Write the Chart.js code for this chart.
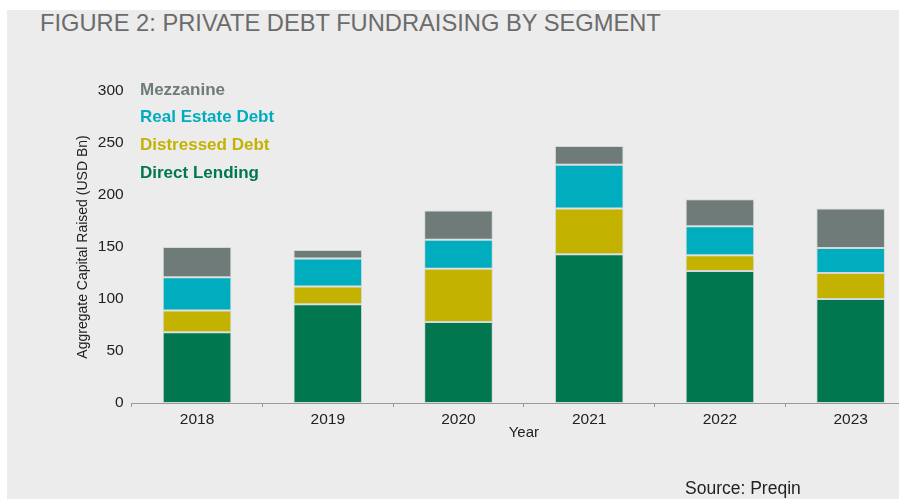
<!DOCTYPE html>
<html>
<head>
<meta charset="utf-8">
<title>Private debt fundraising by segment</title>
<script src="https://cdn.jsdelivr.net/npm/chart.js@4.4.1/dist/chart.umd.min.js"></script>
<style>
    html, body {
        margin: 0;
        padding: 0;
        background: #ffffff;
        width: 899px;
        height: 499px;
        overflow: hidden;
        font-family: 'Liberation Sans', Arial, sans-serif;
    }
    #panel {
        position: absolute;
        left: 7px;
        top: 10px;
        right: 0;
        bottom: 0;
        background: #ececec;
    }
    #figTitle {
        position: absolute;
        left: 40px;
        top: 12px;
        font-size: 23.7px;
        line-height: 1;
        color: #6b6b6b;
        white-space: nowrap;
    }
    #source {
        position: absolute;
        left: 685px;
        top: 480px;
        font-size: 17.5px;
        line-height: 1;
        color: #222222;
        white-space: nowrap;
    }
    #chartWrap {
        position: absolute;
        left: 0;
        top: 0;
        width: 899px;
        height: 499px;
        overflow: hidden;
    }
</style>
</head>
<body>
<div id="panel"></div>
<div id="figTitle">FIGURE 2: PRIVATE DEBT FUNDRAISING BY SEGMENT</div>
<div id="chartWrap"><canvas id="fundChart" width="920" height="499"></canvas></div>
<div id="source">Source: Preqin</div>

<script>
// Fundraising totals per year, USD bn
const years = ['2018', '2019', '2020', '2021', '2022', '2023'];
const directLending = [68, 95, 78, 143, 127, 100];
const distressedDebt = [21, 17, 51, 44, 15, 25];
const realEstateDebt = [32, 27, 28, 42, 28, 24];
const mezzanine = [29, 8, 28, 18, 26, 38];
const yTicks = [0, 50, 100, 150, 200, 250, 300];

const segmentColors = {
    direct: '#00774f',
    distressed: '#c3b300',
    realEstate: '#00adbf',
    mezz: '#6f7b78'
};

Chart.defaults.font.family = "'Liberation Sans', Arial, sans-serif";
Chart.defaults.color = '#222222';

/**
 * Draws the series names as coloured text stacked in the top-left corner,
 * top series first.
 */
const textLegend = {
    id: 'textLegend',
    afterDraw(chart) {
        const ctx = chart.ctx;
        const sets = chart.data.datasets.slice().reverse();
        ctx.save();
        ctx.font = "bold 17px 'Liberation Sans', Arial, sans-serif";
        ctx.textAlign = 'left';
        ctx.textBaseline = 'middle';
        sets.forEach((ds, i) => {
            ctx.fillStyle = ds.backgroundColor;
            ctx.fillText(ds.label, 140, 90 + i * 27.7);
        });
        ctx.restore();
    }
};

function makeSet(label, data, color) {
    return {
        label: label,
        data: data,
        backgroundColor: color,
        borderColor: 'rgba(196, 204, 202, 0.6)',
        borderWidth: 1,
        borderSkipped: false,
        barPercentage: 0.525,
        categoryPercentage: 1.0
    };
}

const ctx = document.getElementById('fundChart').getContext('2d');
const fundChart = new Chart(ctx, {
    type: 'bar',
    data: {
        labels: years,
        datasets: [
            makeSet('Direct Lending', directLending, segmentColors.direct),
            makeSet('Distressed Debt', distressedDebt, segmentColors.distressed),
            makeSet('Real Estate Debt', realEstateDebt, segmentColors.realEstate),
            makeSet('Mezzanine', mezzanine, segmentColors.mezz)
        ]
    },
    options: {
        responsive: false,
        animation: false,
        layout: {
            padding: { left: 74.3, right: 4, top: 91, bottom: 57 }
        },
        scales: {
            x: {
                stacked: true,
                grid: {
                    display: true,
                    drawOnChartArea: false,
                    drawTicks: true,
                    tickLength: 4,
                    color: '#9a9a9a',
                    offset: true
                },
                border: { display: true, color: '#9a9a9a', width: 1 },
                ticks: {
                    padding: 3,
                    font: { size: 15.5 },
                    color: '#222222'
                },
                title: {
                    display: true,
                    text: 'Year',
                    font: { size: 15 },
                    color: '#222222',
                    padding: 0
                },
                afterFit(scale) { scale.height = 39; }
            },
            y: {
                stacked: true,
                min: yTicks[0],
                max: yTicks[yTicks.length - 1],
                afterBuildTicks(scale) {
                    scale.ticks = yTicks.map(v => ({ value: v }));
                },
                grid: { display: false, drawTicks: false },
                border: { display: false },
                ticks: {
                    padding: 8,
                    font: { size: 15.5 },
                    color: '#222222'
                },
                title: {
                    display: true,
                    text: 'Aggregate Capital Raised (USD Bn)',
                    font: { size: 14 },
                    color: '#222222',
                    padding: 0
                },
                afterFit(scale) { scale.width = 57.4; }
            }
        },
        plugins: {
            legend: { display: false },
            tooltip: { enabled: false }
        }
    },
    plugins: [textLegend]
});
</script>
</body>
</html>
